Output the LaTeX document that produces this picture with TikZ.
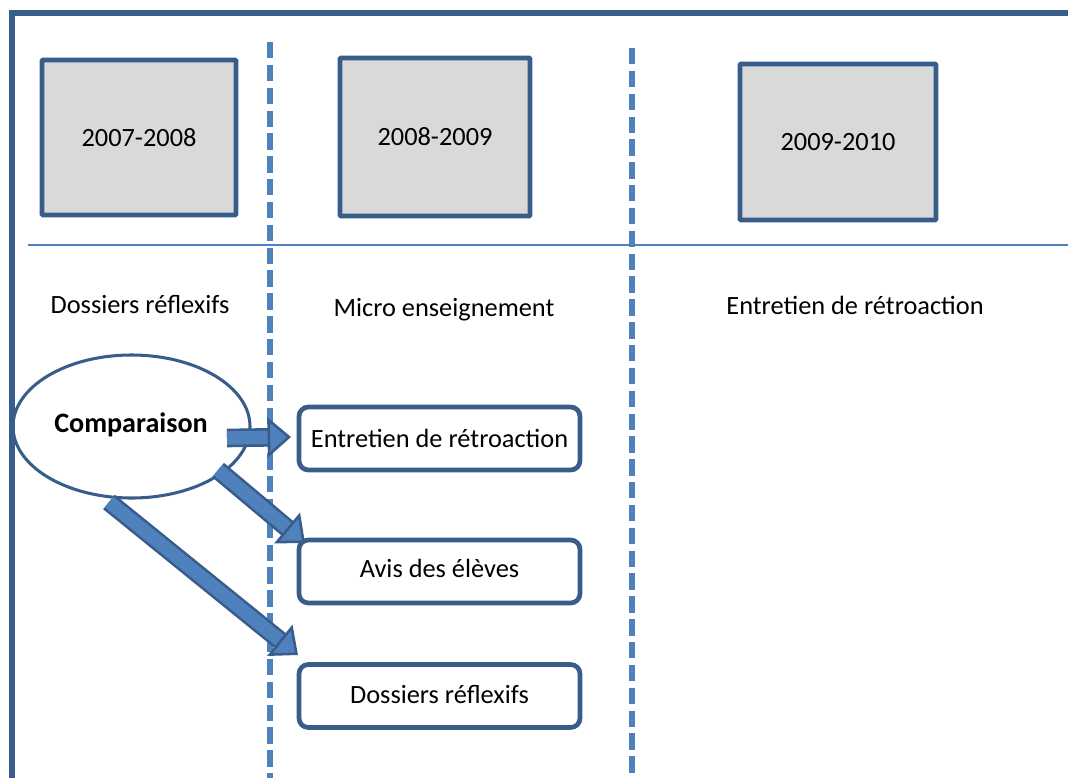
\documentclass[tikz,border=0pt]{standalone}
\usepackage{fontspec}
\setmainfont{Carlito}
\usepackage{tikz}
\usetikzlibrary{arrows.meta,shapes.geometric}
\definecolor{pfdark}{RGB}{56,93,138}
\definecolor{pfblue}{RGB}{79,129,189}
\definecolor{pfgray}{RGB}{217,217,217}

\begin{document}
\begin{tikzpicture}[
  x=0.03cm,y=-0.03cm,
  font=\fontsize{22.5}{27}\selectfont,
  year/.style={draw=pfdark,line width=4.2pt,fill=pfgray,rounded corners=1pt,minimum width=5.8cm,minimum height=4.7cm},
  tool/.style={draw=pfdark,line width=4pt,rounded corners=8pt,fill=white,minimum width=8.43cm,minimum height=1.89cm},
  divider/.style={pfblue,line width=4.4pt,dash pattern=on 14pt off 5.5pt},
  flow/.style={draw=pfdark,line width=2.2pt,double=pfblue,double distance=11.5pt,-{Triangle[length=20pt,width=34pt,fill=pfblue,line width=2.2pt]}}
]
  \useasboundingbox (0,0) rectangle (1068,778);

  % frame and column lines
  \draw[pfdark,line width=4.5pt] (12,778) -- (12,13) -- (1068,13);
  \draw[pfblue,line width=1.8pt] (28,245) -- (1068,245);
  \draw[divider] (270,42) -- (270,778);
  \draw[divider] (632,48) -- (632,778);

  \node[year,minimum width=5.82cm,minimum height=4.65cm] (y1) at (139,137.5) {2007-2008};
  \node[year,minimum width=5.7cm,minimum height=4.74cm] (y2) at (435,137) {2008-2009};
  \node[year,minimum width=5.88cm,minimum height=4.68cm] (y3) at (838,142) {2009-2010};

  \node (lab1) at (140,305) {Dossiers réflexifs};
  \node (lab2) at (444,310) {Micro enseignement};
  \node (lab3) at (855,305) {Entretien de rétroaction};

  \node[ellipse,draw=pfdark,line width=2.6pt,inner sep=0pt,minimum width=7.11cm,minimum height=4.29cm] (comp) at (131.5,426.5) {};
  \node[font=\fontsize{24}{28}\selectfont\bfseries] (comptxt) at (131,425) {Comparaison};

  \node[tool] (entA) at (439.5,438.5) {Entretien de rétroaction};
  \node[tool] (avis) at (439.5,571.5) {\raisebox{5pt}{Avis des élèves}};
  \node[tool] (doss) at (439.5,696) {\raisebox{3pt}{Dossiers réflexifs}};

  \coordinate (s1) at (227,438);
  \coordinate (t1) at (291,437);
  \coordinate (s2) at (218,470);
  \coordinate (t2) at (305,543);
  \coordinate (s3) at (109,502);
  \coordinate (t3) at (298,655);
  \draw[flow] (s1) -- (t1);
  \draw[flow] (s2) -- (t2);
  \draw[flow] (s3) -- (t3);
\end{tikzpicture}
\end{document}
